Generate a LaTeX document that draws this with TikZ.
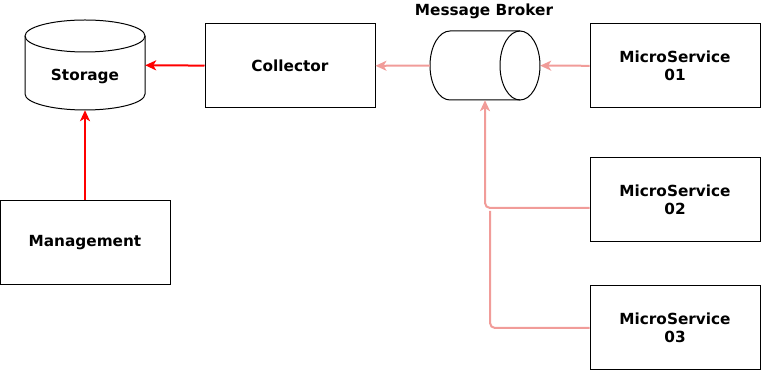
\documentclass[tikz,border=0pt]{standalone}
\usepackage{fontspec}
\setmainfont{DejaVu Sans}
\usetikzlibrary{arrows.meta,positioning,calc}
\definecolor{linkpink}{RGB}{241,156,153}

\begin{document}
\begin{tikzpicture}[x=1pt,y=-1pt,
    label/.style={font=\fontsize{15.3}{18}\selectfont\bfseries, align=center},
    box/.style={draw, line width=1pt, minimum width=170pt, minimum height=84pt, label},
    redlink/.style={draw=red, line width=2pt, -{Stealth[length=11pt,width=10pt,inset=3pt]}},
    pinklink/.style={draw=linkpink, line width=2pt, -{Stealth[length=11pt,width=10pt,inset=3pt]}}]
    \useasboundingbox (0,0) rectangle (761,371);
    % boxes
    \node[box] (coll) at (290,66) {Collector};
    \node[box] (ms1) at (675,66) {MicroService\\01};
    \node[box] (ms2) at (675,200) {MicroService\\02};
    \node[box] (ms3) at (675,328) {MicroService\\03};
    \node[box] (mgmt) at (85,242.5) {Management};
    % storage drum
    \node[minimum width=120pt, minimum height=90pt, inner sep=0pt] (store) at (85,65) {};
    \draw[line width=1pt] (25,36) -- (25,94) arc[start angle=180, end angle=0, x radius=60, y radius=16]
        -- (145,36) arc[start angle=0, end angle=-180, x radius=60, y radius=16] -- cycle;
    \draw[line width=1pt] (25,36) arc[start angle=180, end angle=0, x radius=60, y radius=16];
    \node[label] (storelabel) at (85,76.5) {Storage};
    % broker drum
    \node[minimum width=110pt, minimum height=69pt, inner sep=0pt] (broker) at (485,65.5) {};
    \draw[line width=1pt] (520,31) -- (450,31) arc[start angle=-90, end angle=-270, x radius=20, y radius=34.5] -- (520,100);
    \draw[line width=1pt] (520,65.5) ellipse[x radius=20, y radius=34.5];
    \node[label] (brokerlabel) at (484,11) {Message Broker};
    % links
    \draw[redlink] (coll) -- (store);
    \draw[redlink] (mgmt) -- (store);
    \draw[pinklink] (broker) -- (coll);
    \draw[pinklink] (ms1) -- (broker);
    \draw[pinklink, rounded corners=5pt] ([yshift=-8pt]ms2.west) -| (broker.south);
    \coordinate (ms3end) at (490,211);
    \draw[draw=linkpink, line width=2pt, rounded corners=5pt] (ms3.west) -| (ms3end);
\end{tikzpicture}
\end{document}
